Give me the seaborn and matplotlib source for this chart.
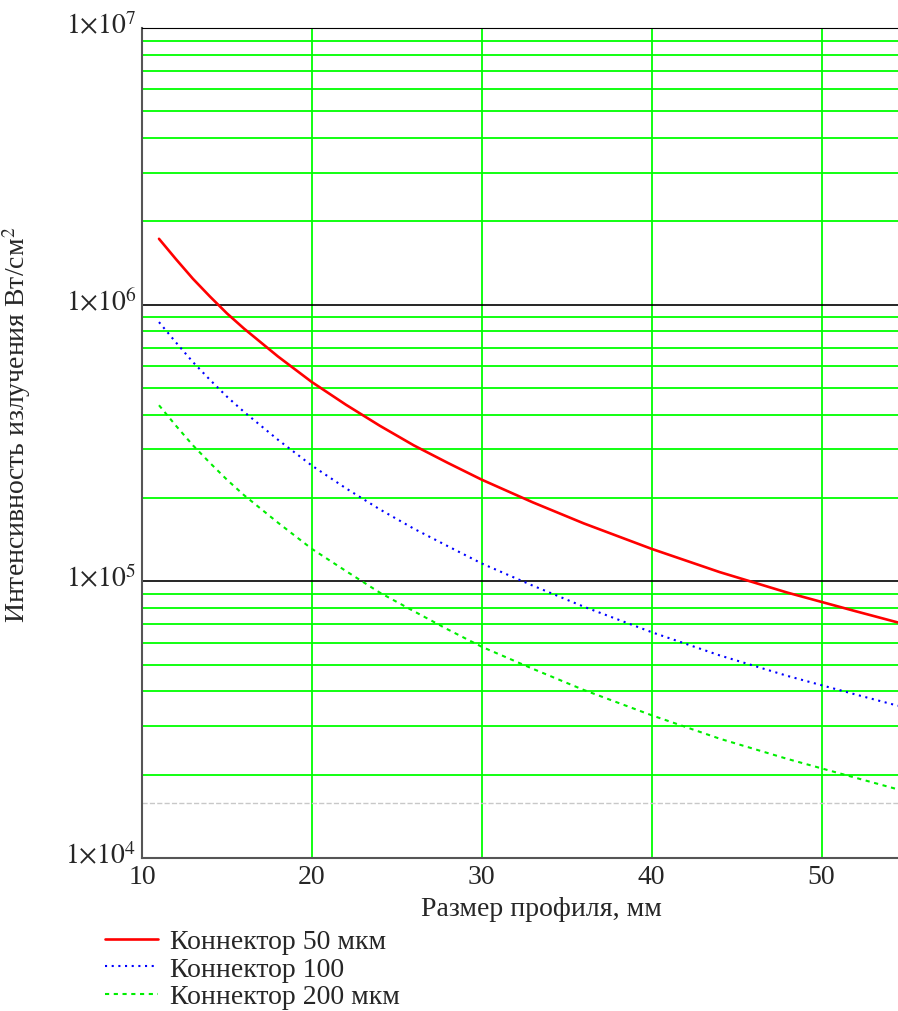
import matplotlib
matplotlib.use("Agg")
import matplotlib.pyplot as plt
import matplotlib.ticker as mticker
import matplotlib.transforms as mtransforms
import pandas as pd
import seaborn as sns

# profile size, mm
size_mm = [11, 12, 13, 14, 15, 16, 18, 20, 22, 24, 26, 28, 30, 33, 36, 40, 44, 48, 52, 54.5]

# radiation intensity, W/cm^2
conn_50 = [1.73e6, 1.46e6, 1.24e6, 1.07e6, 9.3e5, 8.2e5, 6.5e5, 5.25e5, 4.35e5, 3.65e5,
           3.1e5, 2.68e5, 2.33e5, 1.93e5, 1.62e5, 1.31e5, 1.08e5, 9.1e4, 7.8e4, 7.1e4]
conn_100 = [8.65e5, 7.3e5, 6.2e5, 5.35e5, 4.65e5, 4.1e5, 3.25e5, 2.62e5, 2.17e5, 1.82e5,
            1.55e5, 1.34e5, 1.16e5, 9.65e4, 8.1e4, 6.55e4, 5.4e4, 4.55e4, 3.9e4, 3.55e4]
conn_200 = [4.33e5, 3.65e5, 3.1e5, 2.68e5, 2.33e5, 2.05e5, 1.63e5, 1.31e5, 1.09e5, 9.1e4,
            7.8e4, 6.7e4, 5.8e4, 4.83e4, 4.05e4, 3.28e4, 2.7e4, 2.28e4, 1.95e4, 1.77e4]

labels = ['Коннектор 50 мкм', 'Коннектор 100', 'Коннектор 200 мкм']
ref_level = 1.58e4

x_ticks = [10, 20, 30, 40, 50]
y_ticks = [1e4, 1e5, 1e6, 1e7]
y_tick_labels = [r'$1{\times}10^{4}$', r'$1{\times}10^{5}$', r'$1{\times}10^{6}$', r'$1{\times}10^{7}$']

df = pd.DataFrame({'size': size_mm, 'c50': conn_50, 'c100': conn_100, 'c200': conn_200})

sns.set_style('white')
plt.rcParams['font.family'] = ['Liberation Serif', 'DejaVu Serif']
plt.rcParams['mathtext.fontset'] = 'stix'

fig = plt.figure(figsize=(8.98, 10.12), dpi=100)
ax = fig.add_axes([142 / 898, 1 - 859 / 1012, (898 - 142) / 898, (859 - 29) / 1012])

sns.lineplot(data=df, x='size', y='c50', ax=ax, color='#ff0000', lw=1.9, label=labels[0])
sns.lineplot(data=df, x='size', y='c100', ax=ax, color='#0000ff', lw=1.5,
             linestyle=(0, (1, 2.2)), label=labels[1])
sns.lineplot(data=df, x='size', y='c200', ax=ax, color='#00ee00', lw=1.5,
             linestyle=(0, (2, 2.2)), label=labels[2])

ax.axhline(ref_level, color='#c8c8c8', ls='--', lw=1, zorder=1)

ax.set_yscale('log')
ax.set_xlim(10, 54.5)
ax.set_ylim(1e4, 1e7)

ax.xaxis.set_major_locator(mticker.FixedLocator(x_ticks))
ax.set_xticklabels([str(t) for t in x_ticks], fontsize=20)
ax.yaxis.set_major_locator(mticker.FixedLocator(y_ticks))
ax.set_yticklabels(y_tick_labels, fontsize=20)
ax.yaxis.set_minor_locator(mticker.LogLocator(base=10, subs=range(2, 10)))
ax.yaxis.set_minor_formatter(mticker.NullFormatter())
ax.tick_params(which='both', length=0, pad=4)

# y labels sit a little above their grid line, as in the original
shift = mtransforms.ScaledTranslation(0, 4 / 72, fig.dpi_scale_trans)
for lab in ax.get_yticklabels():
    lab.set_transform(lab.get_transform() + shift)

ax.grid(which='major', axis='x', color='#00ff00', lw=1.3)
ax.grid(which='minor', axis='y', color='#00ff00', lw=1.3)
ax.grid(which='major', axis='y', color='black', lw=1.2)
ax.set_axisbelow(True)

for side in ['left', 'bottom']:
    ax.spines[side].set_color('#555555')
    ax.spines[side].set_linewidth(1.5)
ax.spines['top'].set_color('black')
ax.spines['right'].set_visible(False)

ax.set_xlabel('Размер профиля, мм', fontsize=20)
ax.xaxis.set_label_coords(0.528, -0.046)
ax.set_ylabel('Интенсивность излучения Вт/см$^{2}$', fontsize=20)
ax.yaxis.set_label_coords(-0.144, 0.523)

handles, hl = ax.get_legend_handles_labels()
ax.get_legend().remove()
fig.legend(handles, hl, loc='upper left', bbox_to_anchor=(105 / 898, 1 - 930 / 1012),
           frameon=False, fontsize=20, handlelength=1.9, handletextpad=0.45,
           labelspacing=0.07, borderpad=0, borderaxespad=0)

fig.savefig('out.png', dpi=100)
